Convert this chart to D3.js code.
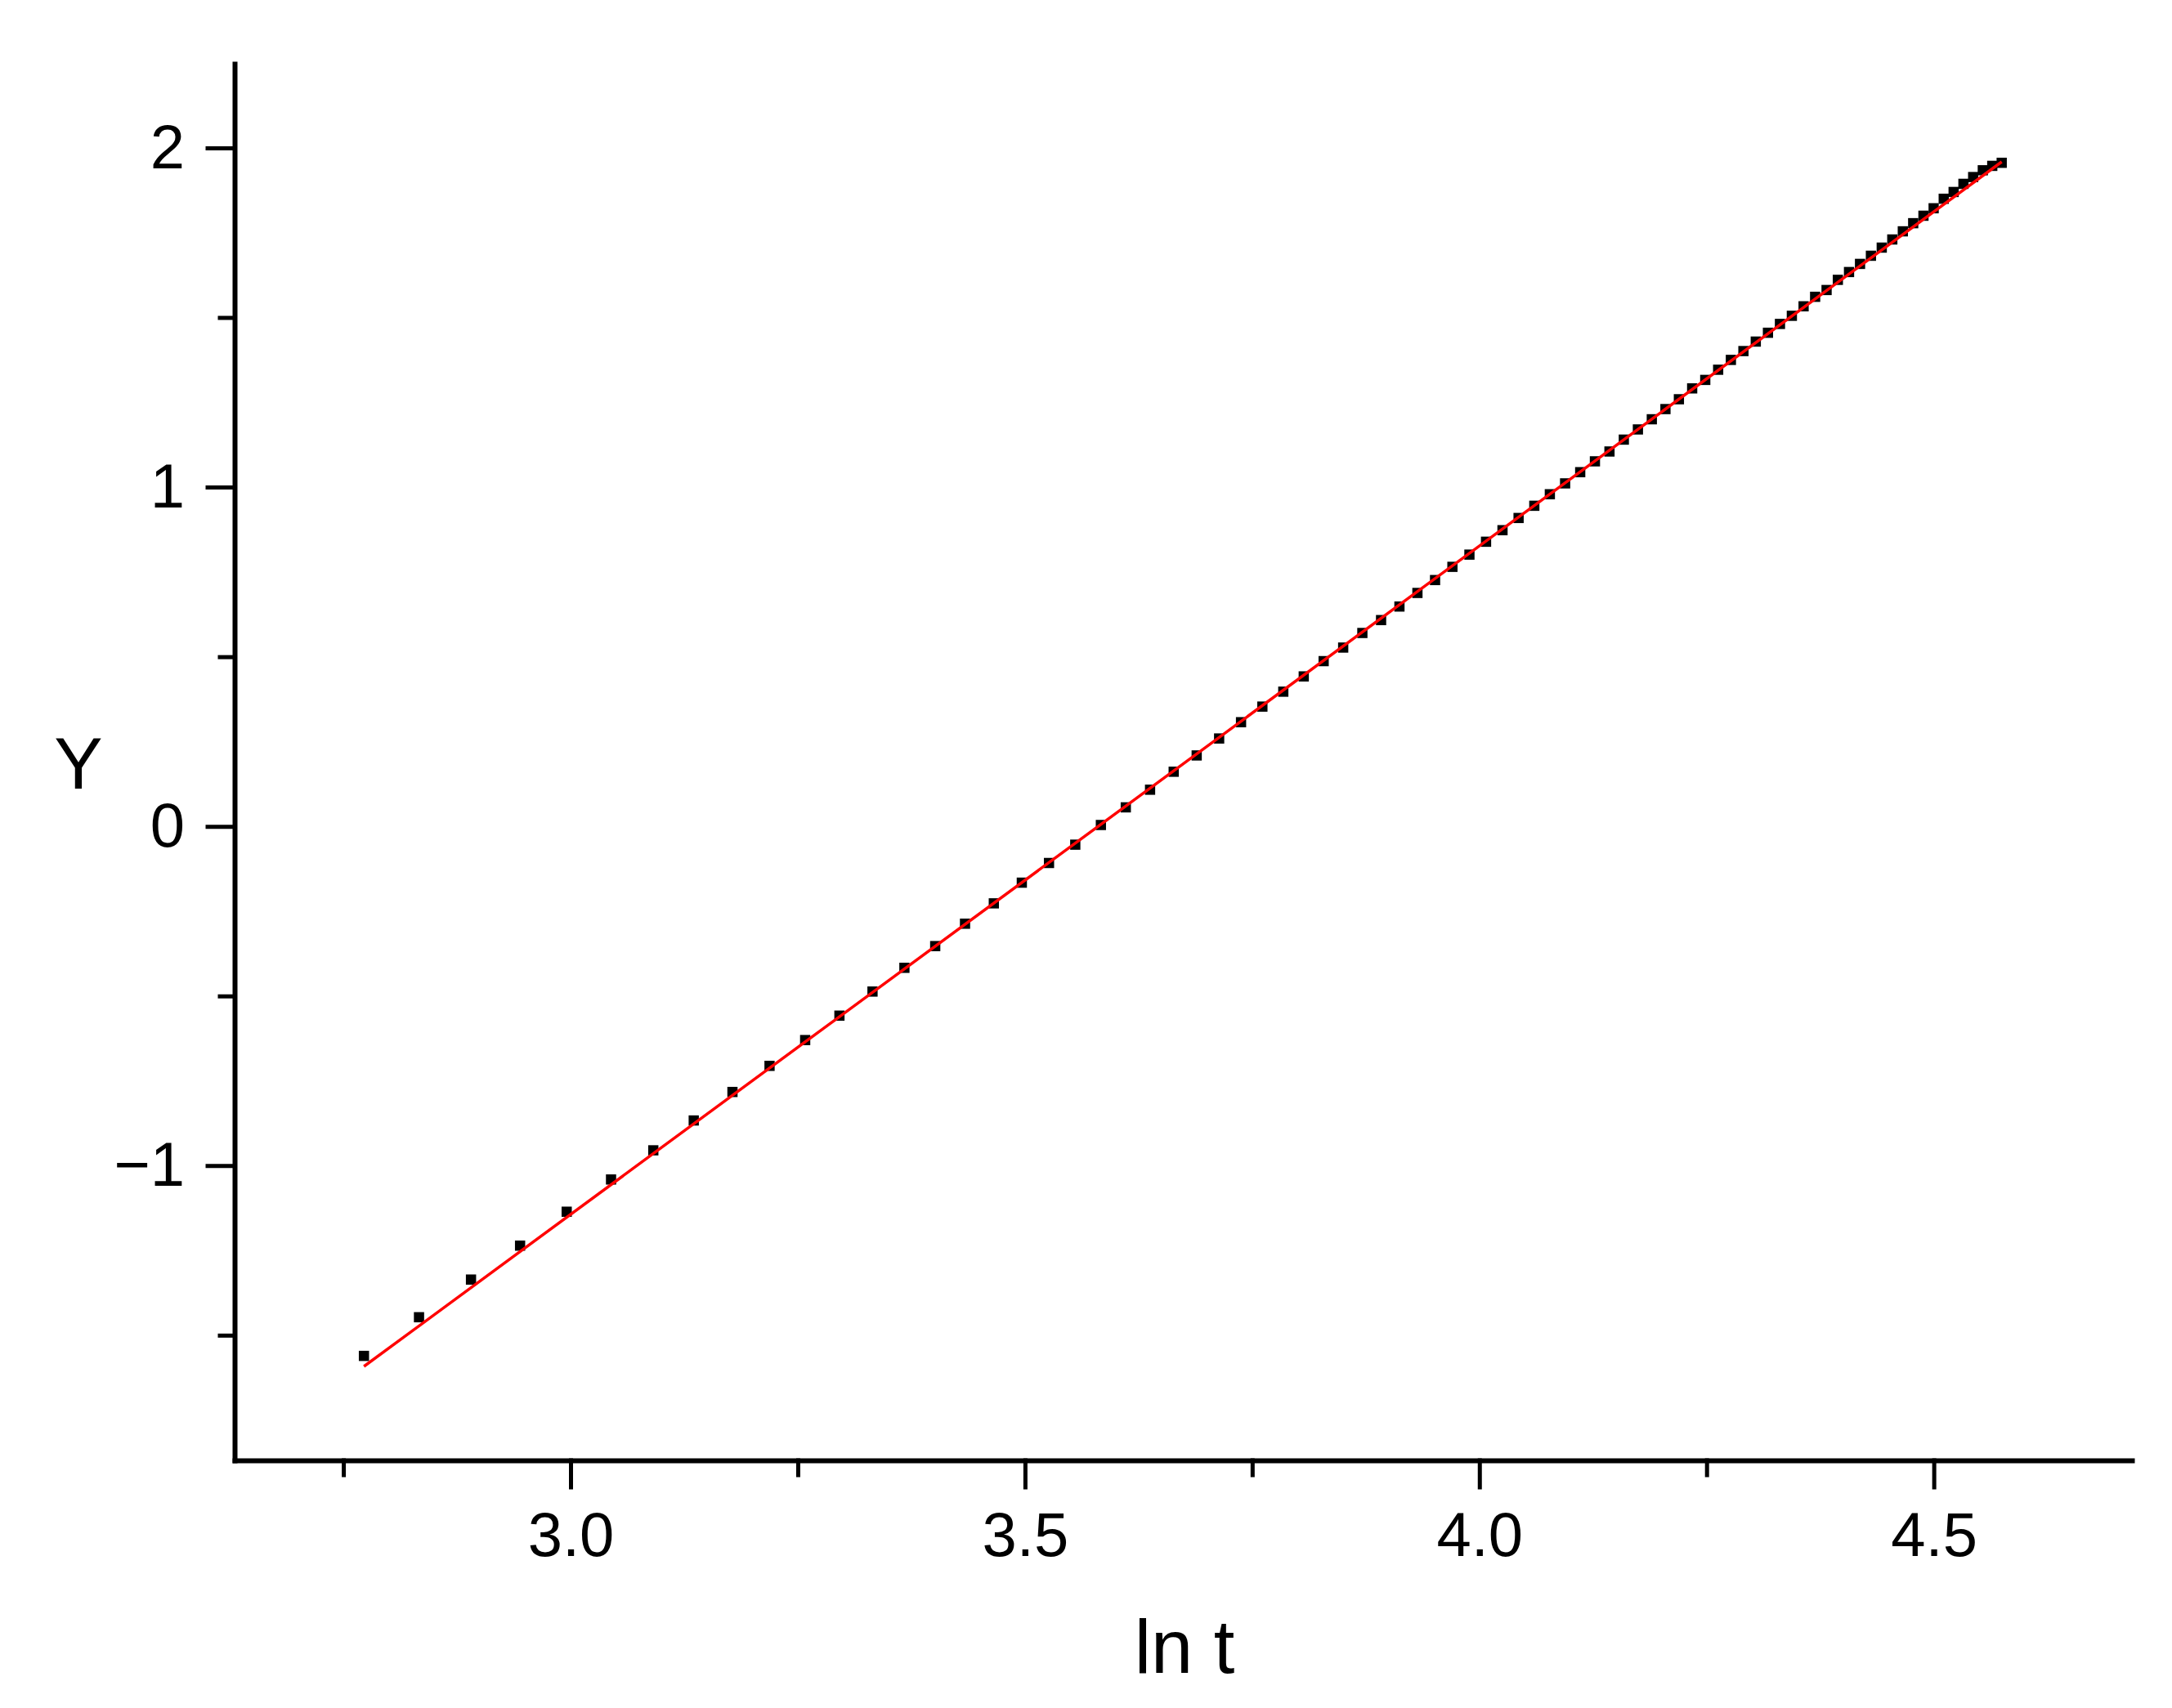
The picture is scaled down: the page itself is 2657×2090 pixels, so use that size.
<!DOCTYPE html>
<meta charset="utf-8">
<style>

body { margin: 0; background: #fff; }

.axis path,
.axis line {
  stroke: #000;
  stroke-linecap: square;
}

.axis text {
  font-family: "Liberation Sans", Arial, sans-serif;
  font-size: 76px;
  fill: #000;
}

.label {
  font-family: "Liberation Sans", Arial, sans-serif;
  fill: #000;
}

</style>
<body>

<script src="https://d3js.org/d3.v7.min.js"></script>
<script>

// data: ln t and Y
var lnT = [2.7726, 2.8332, 2.8904, 2.9444, 2.9957, 3.0445, 3.0910, 3.1355, 3.1781, 3.2189,
           3.2581, 3.2958, 3.3322, 3.3673, 3.4012, 3.4340, 3.4657, 3.4965, 3.5264, 3.5553,
           3.5835, 3.6109, 3.6376, 3.6636, 3.6889, 3.7136, 3.7377, 3.7612, 3.7842, 3.8067,
           3.8286, 3.8501, 3.8712, 3.8918, 3.9120, 3.9318, 3.9512, 3.9703, 3.9890, 4.0073,
           4.0254, 4.0431, 4.0604, 4.0775, 4.0943, 4.1109, 4.1271, 4.1431, 4.1589, 4.1744,
           4.1897, 4.2047, 4.2195, 4.2341, 4.2485, 4.2627, 4.2767, 4.2905, 4.3041, 4.3175,
           4.3307, 4.3438, 4.3567, 4.3694, 4.3820, 4.3944, 4.4067, 4.4188, 4.4308, 4.4427,
           4.4543, 4.4659, 4.4773, 4.4886, 4.4998, 4.5109, 4.5218, 4.5326, 4.5433, 4.5539,
           4.5643, 4.5747];

var yVals = [-1.561, -1.447, -1.336, -1.236, -1.136, -1.041, -0.955, -0.867, -0.783, -0.706,
             -0.630, -0.558, -0.487, -0.417, -0.353, -0.287, -0.227, -0.166, -0.108, -0.054,
             0.004, 0.056, 0.108, 0.161, 0.209, 0.259, 0.307, 0.353, 0.397, 0.442,
             0.487, 0.527, 0.570, 0.608, 0.648, 0.688, 0.726, 0.765, 0.801, 0.839,
             0.873, 0.909, 0.945, 0.979, 1.011, 1.044, 1.076, 1.105, 1.140, 1.170,
             1.200, 1.230, 1.259, 1.291, 1.316, 1.346, 1.375, 1.401, 1.429, 1.455,
             1.481, 1.505, 1.533, 1.561, 1.581, 1.611, 1.634, 1.658, 1.682, 1.706,
             1.730, 1.754, 1.778, 1.800, 1.822, 1.850, 1.870, 1.894, 1.914, 1.934,
             1.947, 1.956];

// linear fit end points
var fitX = [2.7726, 4.5747];
var fitY = [-1.592, 1.959];

// ticks
var xMajor = [3.0, 3.5, 4.0, 4.5];
var xMinor = [2.75, 3.25, 3.75, 4.25];
var yMajor = [-1, 0, 1, 2];
var yMinor = [-1.5, -0.5, 0.5, 1.5];

// set the dimensions and margins of the graph
var margin = {top: 78, right: 49, bottom: 303, left: 287},
    width = 2657 - margin.left - margin.right,
    height = 2090 - margin.top - margin.bottom;

var x = d3.scaleLinear().domain([2.6303, 4.718]).range([0, width]);
var y = d3.scaleLinear().domain([-1.869, 2.248]).range([height, 0]);

var svg = d3.select("body").append("svg")
    .attr("width", width + margin.left + margin.right)
    .attr("height", height + margin.top + margin.bottom)
  .append("g")
    .attr("transform", "translate(" + margin.left + "," + margin.top + ")");

var points = lnT.map(function(d, i) { return {x: d, y: yVals[i]}; });

// minor ticks first, no labels
svg.append("g")
    .attr("class", "axis")
    .attr("transform", "translate(0," + height + ")")
    .call(d3.axisBottom(x).tickValues(xMinor).tickSize(18).tickFormat(""))
    .call(function(g) { g.select(".domain").remove(); })
    .selectAll("line").style("stroke-width", "5px");

svg.append("g")
    .attr("class", "axis")
    .call(d3.axisLeft(y).tickValues(yMinor).tickSize(18).tickFormat(""))
    .call(function(g) { g.select(".domain").remove(); })
    .selectAll("line").style("stroke-width", "5px");

// major ticks with labels + axis lines
var xAxis = svg.append("g")
    .attr("class", "axis")
    .attr("transform", "translate(0," + height + ")")
    .call(d3.axisBottom(x).tickValues(xMajor).tickSize(33).tickSizeOuter(0)
      .tickPadding(30).tickFormat(d3.format(".1f")));
xAxis.selectAll("line").style("stroke-width", "5px");
xAxis.select(".domain").style("stroke-width", "6px");

var yAxis = svg.append("g")
    .attr("class", "axis")
    .call(d3.axisLeft(y).tickValues(yMajor).tickSize(33).tickSizeOuter(0)
      .tickPadding(28).tickFormat(d3.format("d")));
yAxis.selectAll("line").style("stroke-width", "5px");
yAxis.select(".domain").style("stroke-width", "6px");

// data points (square markers)
var s = 12.5;
svg.selectAll(".pt")
    .data(points)
  .enter().append("rect")
    .attr("class", "pt")
    .attr("x", function(d) { return x(d.x) - s / 2; })
    .attr("y", function(d) { return y(d.y) - s / 2; })
    .attr("width", s)
    .attr("height", s)
    .style("fill", "#000");

// fitted line on top
var line = d3.line()
    .x(function(d) { return x(d[0]); })
    .y(function(d) { return y(d[1]); });

svg.append("path")
    .datum(fitX.map(function(d, i) { return [d, fitY[i]]; }))
    .attr("d", line)
    .style("fill", "none")
    .style("stroke", "#ff0000")
    .style("stroke-width", "3.5px");

// axis titles
svg.append("text")
    .attr("class", "label")
    .attr("x", 1449 - margin.left)
    .attr("y", 2047 - margin.top)
    .attr("text-anchor", "middle")
    .style("font-size", "92px")
    .text("ln t");

svg.append("text")
    .attr("class", "label")
    .attr("x", 96 - margin.left)
    .attr("y", 965 - margin.top)
    .attr("text-anchor", "middle")
    .style("font-size", "89px")
    .text("Y");

</script>
</body>
